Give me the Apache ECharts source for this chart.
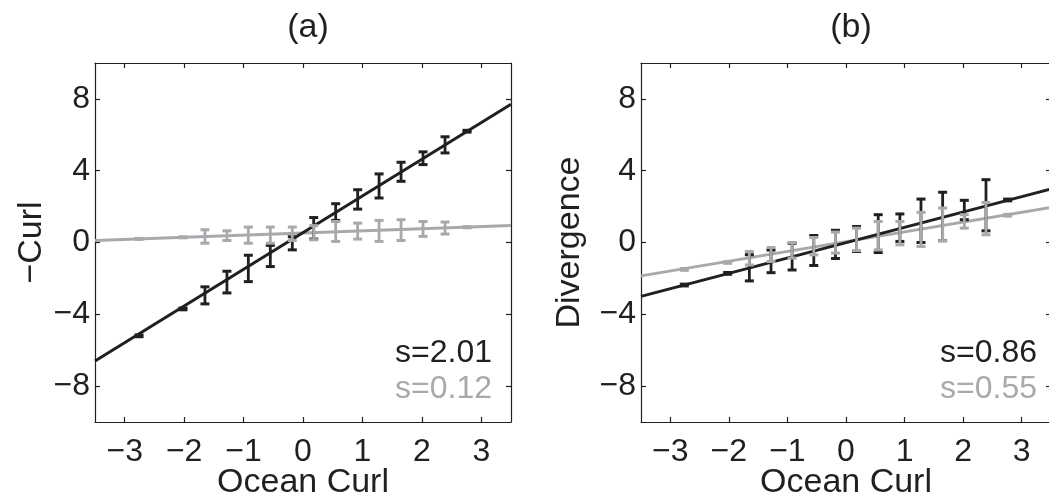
<!DOCTYPE html>
<html>
<head>
<meta charset="utf-8">
<script src="https://cdn.jsdelivr.net/npm/echarts@6/dist/echarts.min.js"></script>
<style>html,body{margin:0;padding:0;background:#fff;}#c{width:1049px;height:496px;}</style>
</head>
<body>
<div id="c"></div>
<script>
// ---- data ----
const xTicks = [-3, -2, -1, 0, 1, 2, 3];
const yTicks = [-8, -4, 0, 4, 8];
const panelTitles = ['(a)', '(b)'];
const yNames = ['\u2212Curl', 'Divergence'];
const xName = 'Ocean Curl';
const slopeTextsA = ['s=2.01', 's=0.12'];
const slopeTextsB = ['s=0.86', 's=0.55'];

// bin centres
const bins = [-2.76, -2.02, -1.65, -1.28, -0.92, -0.55, -0.18, 0.18, 0.55, 0.92, 1.28, 1.65, 2.02, 2.39, 2.76];

// panel (a) error bars: low / high
const aBlackLo = [-5.25, -3.75, -3.42, -2.81, -2.18, -1.34, -0.41, 0.19, 1.23, 1.86, 2.48, 3.41, 4.34, 4.99, 6.15];
const aBlackHi = [-5.15, -3.65, -2.47, -1.60, -0.71, -0.16, 0.32, 1.39, 2.16, 2.94, 3.82, 4.47, 5.05, 5.89, 6.25];
const aGrayLo  = [0.17, 0.26, -0.04, 0.11, -0.04, -0.04, 0.11, 0.15, 0.06, 0.19, 0.06, 0.11, 0.34, 0.47, 0.82];
const aGrayHi  = [0.23, 0.32, 0.71, 0.65, 0.86, 0.86, 0.86, 0.94, 1.17, 1.08, 1.23, 1.27, 1.17, 1.14, 0.88];
// panel (b) error bars
const bBlackLo = [-2.42, -1.77, -2.14, -1.68, -1.53, -1.28, -0.89, -0.50, -0.56, 0.06, 0.00, 0.10, 1.27, 0.65, 2.32];
const bBlackHi = [-2.32, -1.67, -0.68, -0.42, -0.04, 0.39, 0.68, 0.89, 1.55, 1.59, 2.42, 2.80, 2.35, 3.50, 2.42];
const bGrayLo  = [-1.55, -1.16, -1.25, -1.06, -0.87, -0.69, -0.59, -0.45, -0.41, -0.13, -0.22, 0.10, 0.80, 0.43, 1.47];
const bGrayHi  = [-1.45, -1.06, -0.50, -0.28, 0.00, 0.28, 0.58, 0.80, 1.17, 1.17, 1.68, 1.92, 1.55, 2.23, 1.57];

// fitted lines (end points)
const aBlackFit = [[-3.5, -6.6], [3.5, 7.7]];
const aGrayFit  = [[-3.5, 0.11], [3.5, 0.95]];
const bBlackFit = [[-3.5, -3.0], [3.5, 2.98]];
const bGrayFit  = [[-3.5, -1.86], [3.5, 1.95]];

// ---- styling ----
const BLACK = '#231f20';
const GRAY = '#a7a9ac';
const FONT = 'Liberation Sans';

function rows(lo, hi) { return bins.map((x, i) => [x, lo[i], hi[i]]); }
function fmt(v) { return String(v).replace('-', '\u2212'); }

function errRender(color) {
  return function (params, api) {
    const x = api.value(0), lo = api.value(1), hi = api.value(2);
    const p1 = api.coord([x, lo]);
    const p2 = api.coord([x, hi]);
    const hw = 4.5;
    return {
      type: 'group',
      children: [
        { type: 'line', shape: { x1: p1[0], y1: p1[1], x2: p2[0], y2: p2[1] }, style: { stroke: color, lineWidth: 2.8 } },
        { type: 'line', shape: { x1: p1[0] - hw, y1: p1[1], x2: p1[0] + hw, y2: p1[1] }, style: { stroke: color, lineWidth: 3 } },
        { type: 'line', shape: { x1: p2[0] - hw, y1: p2[1], x2: p2[0] + hw, y2: p2[1] }, style: { stroke: color, lineWidth: 3 } }
      ]
    };
  };
}

const grids = [
  { left: 95, top: 63, width: 416, height: 359, containLabel: false, outerBoundsMode: 'none' },
  { left: 641, top: 63, width: 410, height: 359, containLabel: false, outerBoundsMode: 'none' }
];

const xAxes = [], yAxes = [];
grids.forEach((g, gi) => {
  const common = {
    gridIndex: gi, type: 'value', min: -3.5, max: 3.5,
    axisLine: { show: true, onZero: false, lineStyle: { color: BLACK, width: 1.2 } },
    splitLine: { show: false }
  };
  xAxes.push(Object.assign({}, common, {
    position: 'bottom',
    name: xName, nameLocation: 'middle', nameGap: 44, nameMoveOverlap: false,
    nameTextStyle: { fontFamily: FONT, fontSize: 34, color: BLACK },
    axisTick: { show: true, inside: true, length: 5, customValues: xTicks, lineStyle: { color: BLACK, width: 1.2 } },
    axisLabel: { show: true, customValues: xTicks, formatter: fmt, margin: 14, fontFamily: FONT, fontSize: 32, color: BLACK }
  }));
  xAxes.push(Object.assign({}, common, {
    position: 'top',
    axisTick: { show: true, inside: true, length: 5, customValues: xTicks, lineStyle: { color: BLACK, width: 1.2 } },
    axisLabel: { show: false }
  }));
  const ycommon = {
    gridIndex: gi, type: 'value', min: -10, max: 10,
    axisLine: { show: true, onZero: false, lineStyle: { color: BLACK, width: 1.2 } },
    splitLine: { show: false }
  };
  yAxes.push(Object.assign({}, ycommon, {
    position: 'left',
    name: yNames[gi], nameLocation: 'middle', nameRotate: 90, nameGap: gi === 0 ? 46 : 54,
    nameTextStyle: { fontFamily: FONT, fontSize: 34, color: BLACK },
    axisTick: { show: true, inside: true, length: 5, customValues: yTicks, lineStyle: { color: BLACK, width: 1.2 } },
    axisLabel: { show: true, customValues: yTicks, formatter: fmt, margin: 5, fontFamily: FONT, fontSize: 32, color: BLACK }
  }));
  yAxes.push(Object.assign({}, ycommon, {
    position: 'right',
    axisTick: { show: true, inside: true, length: 5, customValues: yTicks, lineStyle: { color: BLACK, width: 1.2 } },
    axisLabel: { show: false }
  }));
});

function lineSeries(xi, yi, data, color, z) {
  return { type: 'line', xAxisIndex: xi, yAxisIndex: yi, data: data, symbol: 'none', silent: true, z: z,
    lineStyle: { color: color, width: 3 }, animation: false };
}
function errSeries(xi, yi, data, color, z) {
  return { type: 'custom', xAxisIndex: xi, yAxisIndex: yi, data: data, z: z,
    encode: { x: 0, y: [1, 2] }, renderItem: errRender(color), animation: false, silent: true };
}

const series = [
  lineSeries(0, 0, aGrayFit, GRAY, 2),
  lineSeries(0, 0, aBlackFit, BLACK, 3),
  errSeries(0, 0, rows(aBlackLo, aBlackHi), BLACK, 4),
  errSeries(0, 0, rows(aGrayLo, aGrayHi), GRAY, 5),
  lineSeries(2, 2, bGrayFit, GRAY, 2),
  lineSeries(2, 2, bBlackFit, BLACK, 3),
  errSeries(2, 2, rows(bBlackLo, bBlackHi), BLACK, 4),
  errSeries(2, 2, rows(bGrayLo, bGrayHi), GRAY, 5)
];

const chart = echarts.init(document.getElementById('c'), null, { renderer: 'canvas' });
chart.setOption({
  animation: false,
  backgroundColor: '#ffffff',
  title: [
    { text: panelTitles[0], left: 303, top: 6, textAlign: 'center', textStyle: { fontFamily: FONT, fontSize: 34, fontWeight: 'normal', color: BLACK } },
    { text: panelTitles[1], left: 846, top: 6, textAlign: 'center', textStyle: { fontFamily: FONT, fontSize: 34, fontWeight: 'normal', color: BLACK } }
  ],
  grid: grids,
  xAxis: xAxes,
  yAxis: yAxes,
  series: series,
  graphic: [
    { type: 'text', x: 492, y: 353, style: { text: slopeTextsA[0], align: 'right', verticalAlign: 'middle', fill: BLACK, font: '32px "' + FONT + '"' } },
    { type: 'text', x: 492, y: 389, style: { text: slopeTextsA[1], align: 'right', verticalAlign: 'middle', fill: GRAY, font: '32px "' + FONT + '"' } },
    { type: 'text', x: 1037, y: 353, style: { text: slopeTextsB[0], align: 'right', verticalAlign: 'middle', fill: BLACK, font: '32px "' + FONT + '"' } },
    { type: 'text', x: 1037, y: 389, style: { text: slopeTextsB[1], align: 'right', verticalAlign: 'middle', fill: GRAY, font: '32px "' + FONT + '"' } }
  ]
});
</script>
</body>
</html>
